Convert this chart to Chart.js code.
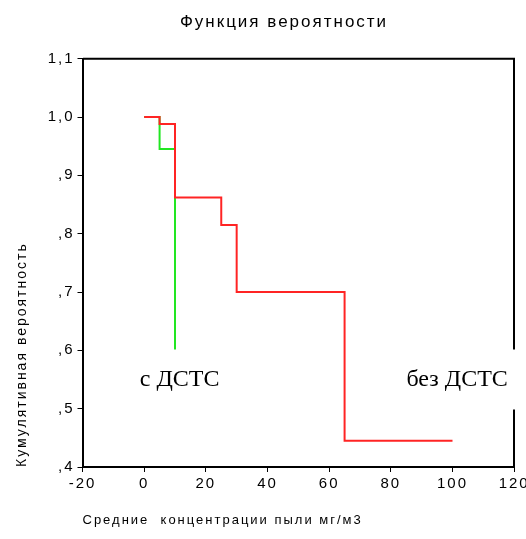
<!DOCTYPE html>
<html>
<head>
<meta charset="utf-8">
<script src="https://cdn.jsdelivr.net/npm/chart.js@4.4.1/dist/chart.umd.min.js"></script>
<style>
  html, body { margin: 0; padding: 0; background: #fff; }
</style>
</head>
<body>
<canvas id="myChart" width="526" height="539"></canvas>
<script>
// survival curves (step functions)
const redX = [0, 5, 10, 25, 30, 65, 100];
const redY = [1.0, 0.988, 0.862, 0.815, 0.70, 0.445, 0.445];
const greenX = [0, 5, 10];
const greenY = [1.0, 0.945, 0.60];

const xTickLabels = ['-20', '0', '20', '40', '60', '80', '100', '120'];
const yTickLabels = [',4', ',5', ',6', ',7', ',8', ',9', '1,0', '1,1'];

const chartTitle = 'Функция вероятности';
const xTitle = 'Средние  концентрации пыли мг/м3';
const yTitle = 'Кумулятивная вероятность';

// in-plot labels: text, x, y (data units)
const labels = [
    { text: 'с ДСТС', x: 11.5, y: 0.55 },
    { text: 'без ДСТС', x: 101.5, y: 0.55 }
];

const sans = '"Liberation Sans", Arial, sans-serif';

const extras = {
    id: 'extras',
    beforeDraw(chart) {
        chart.ctx.letterSpacing = '2px';
    },
    afterDraw(chart) {
        const ctx = chart.ctx;
        const a = chart.chartArea;
        ctx.save();
        // top and right frame
        ctx.strokeStyle = '#000';
        ctx.lineWidth = 2;
        ctx.beginPath();
        ctx.moveTo(Math.round(a.left), a.top);
        ctx.lineTo(Math.round(a.right), a.top);
        ctx.lineTo(Math.round(a.right), a.bottom);
        ctx.stroke();

        // title
        ctx.fillStyle = '#000';
        ctx.font = '17px ' + sans;
        ctx.textAlign = 'center';
        ctx.textBaseline = 'middle';
        ctx.fillText(chartTitle, 284, 22);

        // series labels with white boxes
        ctx.letterSpacing = '0px';
        ctx.font = '24px "Liberation Serif", "Times New Roman", serif';
        labels.forEach(l => {
            const px = chart.scales.x.getPixelForValue(l.x);
            const py = chart.scales.y.getPixelForValue(l.y);
            const w = ctx.measureText(l.text).width;
            ctx.fillStyle = '#fff';
            ctx.fillRect(px - w / 2 - 10, py - 30, w + 20, 60);
            ctx.fillStyle = '#000';
            ctx.fillText(l.text, px, py);
        });
        ctx.restore();
    }
};

const ctx = document.getElementById('myChart').getContext('2d');
const myChart = new Chart(ctx, {
    type: 'line',
    data: {
        datasets: [{
            label: 'без ДСТС',
            data: redX.map((x, i) => ({ x: x, y: redY[i] })),
            borderColor: '#ff2424',
            borderWidth: 2,
            stepped: 'before',
            pointRadius: 0,
            fill: false
        }, {
            label: 'с ДСТС',
            data: greenX.map((x, i) => ({ x: x, y: greenY[i] })),
            borderColor: '#22e622',
            borderWidth: 2,
            stepped: 'before',
            pointRadius: 0,
            fill: false
        }]
    },
    options: {
        responsive: false,
        animation: false,
        layout: { padding: { top: 58.667, right: 11.833, left: 0, bottom: 0 } },
        plugins: {
            legend: { display: false },
            tooltip: { enabled: false },
            title: { display: false }
        },
        scales: {
            x: {
                type: 'linear',
                min: -20,
                max: 120,
                afterFit: s => {
                    s.height = 72;
                    s.paddingLeft = 0;
                    s.paddingRight = 0;
                },
                ticks: {
                    stepSize: 20,
                    color: '#000',
                    padding: 3,
                    maxRotation: 0,
                    autoSkip: false,
                    font: { family: sans, size: 15 },
                    callback: (v, i) => xTickLabels[i]
                },
                grid: { drawOnChartArea: false, drawTicks: true, tickLength: 5, color: '#000', lineWidth: 1 },
                border: { display: true, color: '#000', width: 2 },
                title: {
                    display: true,
                    text: xTitle,
                    align: 'start',
                    color: '#000',
                    font: { family: sans, size: 13 },
                    padding: { top: 0, bottom: 11 }
                }
            },
            y: {
                min: 0.4,
                max: 1.1,
                afterFit: s => {
                    s.width = 82.5;
                    s.paddingTop = 0;
                    s.paddingBottom = 0;
                },
                ticks: {
                    stepSize: 0.1,
                    color: '#000',
                    padding: 3,
                    autoSkip: false,
                    font: { family: sans, size: 15 },
                    callback: (v, i) => yTickLabels[i]
                },
                grid: { drawOnChartArea: false, drawTicks: true, tickLength: 5, color: '#000', lineWidth: 1 },
                border: { display: true, color: '#000', width: 2 },
                title: {
                    display: true,
                    text: yTitle,
                    align: 'start',
                    color: '#000',
                    font: { family: sans, size: 14 },
                    padding: { top: 14, bottom: 0 }
                }
            }
        }
    },
    plugins: [extras]
});
</script>
</body>
</html>
